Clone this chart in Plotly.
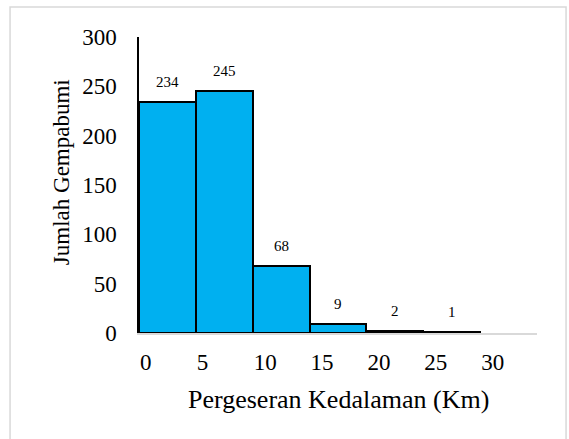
import plotly.graph_objects as go

# Depth-shift bins (km) and earthquake counts per bin
bin_start = [0, 5, 10, 15, 20, 25]
bin_width = 5
counts = [234, 245, 68, 9, 2, 1]
x_ticks = [0, 5, 10, 15, 20, 25, 30]
x_ticktext = [str(v) for v in x_ticks]
y_ticks = [0, 50, 100, 150, 200, 250, 300]

centers = [s + bin_width / 2 for s in bin_start]
FONT = "Liberation Serif, Times New Roman, serif"

fig = go.Figure()
fig.add_trace(go.Bar(
    x=centers,
    y=counts,
    width=bin_width,
    marker=dict(color="#00B0F0", line=dict(color="black", width=2)),
    hoverinfo="x+y",
))

# value labels above each bar
for cx, c in zip(centers, counts):
    fig.add_annotation(
        x=cx, y=c, xref="x", yref="y", text=str(c), showarrow=False,
        yanchor="bottom", yshift=10,
        font=dict(family=FONT, size=15, color="black"),
    )

# axis titles
fig.add_annotation(
    x=0.5, y=-0.223, xref="paper", yref="paper",
    text="Pergeseran Kedalaman (Km)", showarrow=False,
    xanchor="center", yanchor="middle",
    font=dict(family=FONT, size=26, color="black"),
)
fig.add_annotation(
    x=-0.193, y=0.544, xref="paper", yref="paper",
    text="Jumlah Gempabumi", showarrow=False, textangle=-90,
    xanchor="center", yanchor="middle",
    font=dict(family=FONT, size=23, color="black"),
)

# light frame around the chart
fig.add_shape(
    type="rect", xref="paper", yref="paper",
    x0=-0.324, x1=1.073, y0=-0.42, y1=1.101,
    line=dict(color="#D9D9D9", width=1.5), fillcolor="rgba(0,0,0,0)",
    layer="below",
)

fig.update_layout(
    width=569, height=439,
    margin=dict(l=139, r=32, t=37, b=106),
    paper_bgcolor="white", plot_bgcolor="white",
    showlegend=False,
    bargap=0,
    font=dict(family=FONT, color="black"),
)
fig.update_xaxes(
    range=[0, 35],
    tickvals=x_ticks, ticktext=x_ticktext,
    ticklabelposition="outside right",
    ticklabelstandoff=7,
    ticks="", showline=True, linecolor="#D9D9D9", linewidth=2,
    showgrid=False, zeroline=False,
    tickfont=dict(family=FONT, size=23, color="black"),
)
fig.update_yaxes(
    range=[0, 300],
    tickvals=y_ticks,
    ticks="outside", ticklen=16, tickcolor="rgba(0,0,0,0)",
    showline=True, linecolor="black", linewidth=1.5,
    showgrid=False, zeroline=False,
    tickfont=dict(family=FONT, size=23, color="black"),
)

fig.write_html("out.html")
